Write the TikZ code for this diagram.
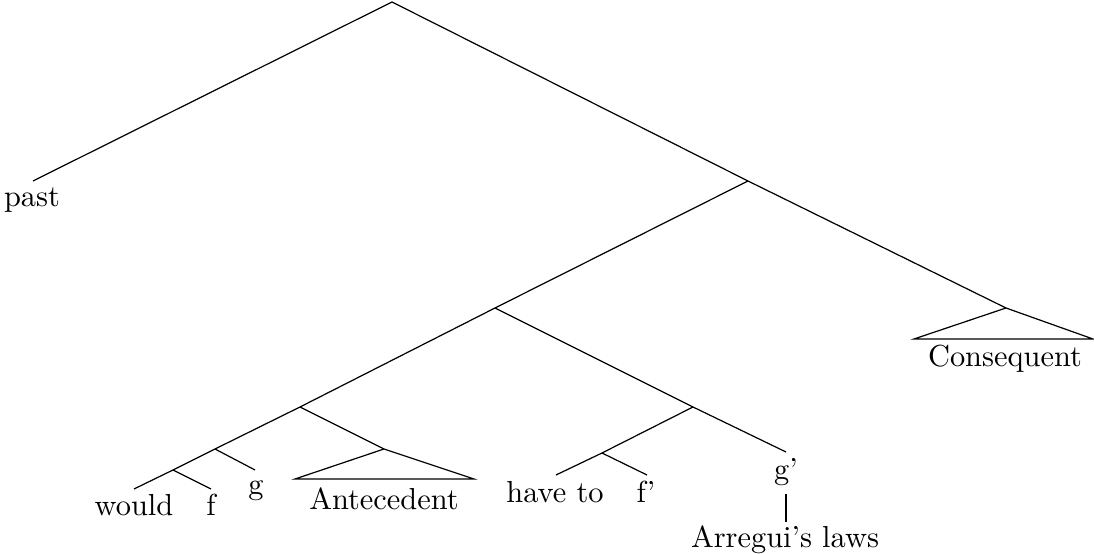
\documentclass[tikz,border=0pt]{standalone}
\begin{document}
\begin{tikzpicture}[x=0.329pt,y=-0.329pt,line width=0.4pt,
  lbl/.style={anchor=base,inner sep=0pt}]
\useasboundingbox (0,0) rectangle (1094,554);
% tree points
\coordinate (root) at (392,2);
\coordinate (pastE) at (33,181);
\coordinate (X1) at (748,181);
\coordinate (cons) at (1006,308);
\coordinate (consL) at (914,339);
\coordinate (consR) at (1093,339);
\coordinate (X2) at (495,308);
\coordinate (X3) at (300,407);
\coordinate (X4) at (215,449);
\coordinate (X5) at (173,470);
\coordinate (wouldE) at (134,489);
\coordinate (fE) at (211,489);
\coordinate (gE) at (255,470);
\coordinate (ant) at (384,449);
\coordinate (antL) at (295,479);
\coordinate (antR) at (474,479);
\coordinate (X6) at (693,407);
\coordinate (X7) at (602,453);
\coordinate (havetoE) at (556,475);
\coordinate (fpE) at (647,475);
\coordinate (gpE) at (786,452);
\coordinate (arrT) at (786,494);
\coordinate (arrB) at (786,522);
% labels
\node[lbl] (past) at (32,207) {past};
\node[lbl] (would) at (134,516) {would};
\node[lbl] (f) at (211,516) {f};
\node[lbl] (g) at (256,495) {g};
\node[lbl] (antecedent) at (384,510) {Antecedent};
\node[lbl] (haveto) at (555,503) {have to};
\node[lbl] (fp) at (646,503) {f'};
\node[lbl] (gp) at (786,480) {g'};
\node[lbl] (arregui) at (785,548) {Arregui's laws};
\node[lbl] (consequent) at (1005,367) {Consequent};
% edges
\draw (pastE) -- (root) -- (X1) -- (cons);
\draw (consL) -- (cons) -- (consR) -- cycle;
\draw (X1) -- (X2) -- (X3) -- (X4) -- (X5) -- (wouldE);
\draw (X5) -- (fE);
\draw (X4) -- (gE);
\draw (X3) -- (ant);
\draw (antL) -- (ant) -- (antR) -- cycle;
\draw (X2) -- (X6) -- (gpE);
\draw (X6) -- (X7) -- (havetoE);
\draw (X7) -- (fpE);
\draw (arrT) -- (arrB);
\end{tikzpicture}
\end{document}
